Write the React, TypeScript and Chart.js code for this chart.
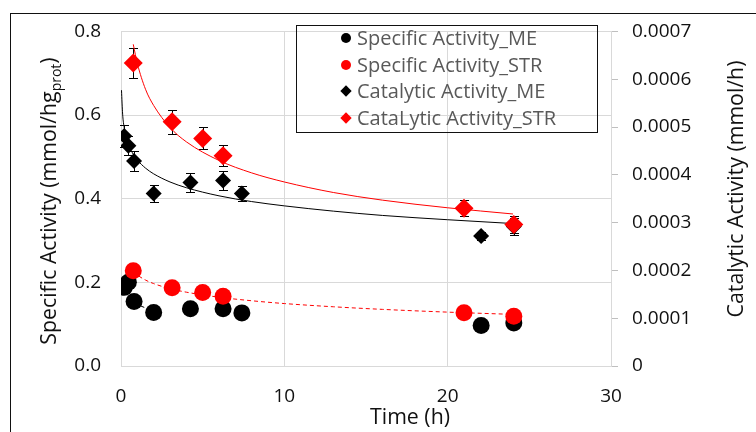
import React, { useEffect, useRef } from "react";
import { Chart, registerables } from "chart.js";

Chart.register(...registerables);

// ---- data ----
const timeME = [0.2, 0.45, 0.8, 2.0, 4.25, 6.25, 7.4, 22.05, 24.05];
const specificME = [0.188, 0.2, 0.154, 0.128, 0.137, 0.137, 0.127, 0.097, 0.103];
const catalyticME = [0.000481, 0.000461, 0.000429, 0.000361, 0.000384, 0.000388, 0.000361, 0.000272, 0.000292];
const catalyticMEErr = [0.000023, 0.00002, 0.000021, 0.000017, 0.000019, 0.000019, 0.000016, 0.000008, 0.000018];

const timeSTR = [0.75, 3.13, 5.0, 6.25, 21.0, 24.05];
const specificSTR = [0.228, 0.187, 0.176, 0.167, 0.1275, 0.119];
const catalyticSTR = [0.000634, 0.000511, 0.000476, 0.00044, 0.00033, 0.000296];
const catalyticSTRErr = [0.000031, 0.000025, 0.000023, 0.000022, 0.000017, 0.000018];

// trend lines
const trendTimeCatSTR = [0.75, 1, 1.5, 2, 3, 4, 6, 8, 10, 13, 16, 20, 24];
const trendCatSTR = [0.000673, 0.000633, 0.000579, 0.000545, 0.000499, 0.000469, 0.00043, 0.000404, 0.000385, 0.000363, 0.000347, 0.000331, 0.000318];
const trendTimeCatME = [0.03, 0.1, 0.2, 0.4, 0.7, 1, 1.5, 2, 3, 4, 6, 8, 10, 13, 16, 20, 24];
const trendCatME = [0.000577, 0.000527, 0.000498, 0.000469, 0.000446, 0.000431, 0.000414, 0.000402, 0.000385, 0.000373, 0.000356, 0.000344, 0.000335, 0.000324, 0.000315, 0.000306, 0.000298];
const trendTimeSpecSTR = [0.75, 1, 1.5, 2, 3, 4, 6, 8, 10, 13, 16, 20, 24];
const trendSpecSTR = [0.226, 0.2175, 0.2055, 0.197, 0.185, 0.1765, 0.1645, 0.156, 0.1493, 0.1416, 0.1354, 0.1288, 0.1234];
const trendTimeSpecME = [0.8, 2.0];
const trendSpecME = [0.15, 0.131];

const xTicks = [0, 10, 20, 30];
const legendLabels = [
  "Specific Activity_ME",
  "Specific Activity_STR",
  "Catalytic Activity_ME",
  "CataLytic Activity_STR",
];

const FONT = "'Open Sans', sans-serif";

const pts = (xs: number[], ys: number[]) => xs.map((x, i) => ({ x, y: ys[i] }));

const errorBarPlugin = {
  id: "errorBars",
  beforeDatasetsDraw(chart: any) {
    const ctx = chart.ctx;
    const xScale = chart.scales.x;
    chart.data.datasets.forEach((ds: any) => {
      if (!ds.errors) return;
      const yScale = chart.scales[ds.yAxisID];
      ctx.save();
      ctx.strokeStyle = "#000";
      ctx.lineWidth = 1;
      ds.data.forEach((p: any, j: number) => {
        const x = Math.round(xScale.getPixelForValue(p.x)) + 0.5;
        const yTop = Math.round(yScale.getPixelForValue(p.y + ds.errors[j])) + 0.5;
        const yBot = Math.round(yScale.getPixelForValue(p.y - ds.errors[j])) + 0.5;
        ctx.beginPath();
        ctx.moveTo(x, yTop);
        ctx.lineTo(x, yBot);
        ctx.moveTo(x - 4.5, yTop);
        ctx.lineTo(x + 4.5, yTop);
        ctx.moveTo(x - 4.5, yBot);
        ctx.lineTo(x + 4.5, yBot);
        ctx.stroke();
      });
      ctx.restore();
    });
  },
};

export default function App() {
  const canvasRef = useRef<HTMLCanvasElement | null>(null);

  useEffect(() => {
    if (!canvasRef.current) return;
    const lineDs = (data: any, color: string, yAxisID: string, order: number, dash: number[] = []) => ({
      type: "scatter" as const,
      data,
      yAxisID,
      showLine: true,
      borderColor: color,
      backgroundColor: color,
      borderWidth: 1,
      borderDash: dash,
      pointRadius: 0,
      cubicInterpolationMode: "monotone" as const,
      order,
    });
    const chart = new Chart(canvasRef.current, {
      type: "scatter",
      data: {
        datasets: [
          {
            label: legendLabels[1],
            data: pts(timeSTR, specificSTR),
            yAxisID: "y",
            pointStyle: "circle",
            pointRadius: 8.5,
            backgroundColor: "#ff0000",
            borderColor: "#ff0000",
            borderWidth: 0,
            order: 0,
          },
          {
            label: legendLabels[3],
            data: pts(timeSTR, catalyticSTR),
            yAxisID: "y1",
            pointStyle: "rectRot",
            pointRadius: 9.5,
            backgroundColor: "#ff0000",
            borderColor: "#ff0000",
            borderWidth: 0,
            order: 1,
            errors: catalyticSTRErr,
          } as any,
          {
            label: legendLabels[0],
            data: pts(timeME, specificME),
            yAxisID: "y",
            pointStyle: "circle",
            pointRadius: 8.5,
            backgroundColor: "#000",
            borderColor: "#000",
            borderWidth: 0,
            order: 2,
          },
          {
            label: legendLabels[2],
            data: pts(timeME, catalyticME),
            yAxisID: "y1",
            pointStyle: "rectRot",
            pointRadius: 8,
            backgroundColor: "#000",
            borderColor: "#000",
            borderWidth: 0,
            order: 3,
            errors: catalyticMEErr,
          } as any,
          lineDs(pts(trendTimeCatSTR, trendCatSTR), "#ff0000", "y1", 4),
          lineDs(pts(trendTimeCatME, trendCatME), "#000", "y1", 5),
          lineDs(pts(trendTimeSpecSTR, trendSpecSTR), "#ff0000", "y", 6, [4, 3]),
          lineDs(pts(trendTimeSpecME, trendSpecME), "#000", "y", 7, [4, 3]),
        ],
      },
      options: {
        responsive: false,
        animation: false,
        devicePixelRatio: 1,
        layout: { padding: { top: 29, left: 0, right: 0, bottom: 0 } },
        plugins: { legend: { display: false }, tooltip: { enabled: false } },
        scales: {
          x: {
            type: "linear",
            min: 0,
            max: 30,
            afterBuildTicks: (s: any) => {
              s.ticks = xTicks.map((v) => ({ value: v }));
            },
            ticks: { font: { family: FONT, size: 19 }, color: "#111", padding: 19 },
            grid: { color: "#d9d9d9", drawTicks: false, lineWidth: 1 },
            border: { color: "#d9d9d9" },
            afterFit: (s: any) => {
              s.height = 66;
            },
          },
          y: {
            position: "left",
            min: 0,
            max: 0.8,
            ticks: {
              stepSize: 0.2,
              font: { family: FONT, size: 19 },
              color: "#111",
              padding: 20,
              callback: (v: any) => Number(v).toFixed(1),
            },
            grid: { color: "#d9d9d9", drawTicks: false },
            border: { color: "#d9d9d9" },
            afterFit: (s: any) => {
              s.width = 121;
            },
          },
          y1: {
            position: "right",
            min: 0,
            max: 0.0007,
            ticks: {
              stepSize: 0.0001,
              font: { family: FONT, size: 19 },
              color: "#111",
              padding: 14,
              callback: (v: any) => (Number(v) === 0 ? "0" : Number(v).toFixed(4)),
            },
            grid: { drawOnChartArea: false, color: "#bfbfbf", tickLength: 7 },
            border: { color: "#d9d9d9" },
            afterFit: (s: any) => {
              s.width = 145;
            },
          },
        },
      } as any,
      plugins: [errorBarPlugin],
    });
    return () => chart.destroy();
  }, []);

  const legendRowsY = [38.3, 64.6, 91, 117.5];

  return (
    <div
      style={{
        position: "fixed",
        left: 0,
        top: 0,
        width: 756,
        height: 432,
        background: "#fff",
        overflow: "hidden",
        fontFamily: FONT,
      }}
    >
      <canvas ref={canvasRef} width={756} height={432} style={{ position: "absolute", left: 0, top: 0 }} />
      {/* outer frame */}
      <div
        style={{
          position: "absolute",
          left: 10,
          top: 13,
          width: 800,
          height: 500,
          border: "1px solid #111",
          pointerEvents: "none",
        }}
      />
      {/* legend */}
      <div
        style={{
          position: "absolute",
          left: 296,
          top: 25,
          width: 300,
          height: 106,
          border: "1px solid #111",
        }}
      />
      {legendLabels.map((label, i) => {
        const isCircle = i < 2;
        const color = i % 2 === 0 ? "#000" : "#ff0000";
        return (
          <React.Fragment key={label}>
            <div
              style={{
                position: "absolute",
                left: 346 - (isCircle ? 5 : 4),
                top: legendRowsY[i] - (isCircle ? 5 : 4),
                width: isCircle ? 10 : 8,
                height: isCircle ? 10 : 8,
                borderRadius: isCircle ? "50%" : 0,
                background: color,
                transform: isCircle ? "none" : "rotate(45deg)",
              }}
            />
            <div
              style={{
                position: "absolute",
                left: 357,
                top: legendRowsY[i] - 14,
                height: 28,
                lineHeight: "28px",
                fontSize: 20,
                color: "#595959",
                whiteSpace: "nowrap",
              }}
            >
              {label}
            </div>
          </React.Fragment>
        );
      })}
      {/* axis titles */}
      <div
        style={{
          position: "absolute",
          left: 52,
          top: 201,
          transform: "translate(-50%, -50%) rotate(-90deg)",
          fontSize: 21.3,
          color: "#111",
          whiteSpace: "nowrap",
          lineHeight: "26px",
        }}
      >
        Specific Activity (mmol/hg<sub style={{ fontSize: 14 }}>prot</sub>)
      </div>
      <div
        style={{
          position: "absolute",
          left: 735,
          top: 189,
          transform: "translate(-50%, -50%) rotate(-90deg)",
          fontSize: 21.3,
          color: "#111",
          whiteSpace: "nowrap",
          lineHeight: "26px",
        }}
      >
        Catalytic Activity (mmol/h)
      </div>
      <div
        style={{
          position: "absolute",
          left: 410,
          top: 416,
          transform: "translate(-50%, -50%)",
          fontSize: 21.3,
          color: "#111",
          whiteSpace: "nowrap",
          lineHeight: "26px",
        }}
      >
        Time (h)
      </div>
    </div>
  );
}
